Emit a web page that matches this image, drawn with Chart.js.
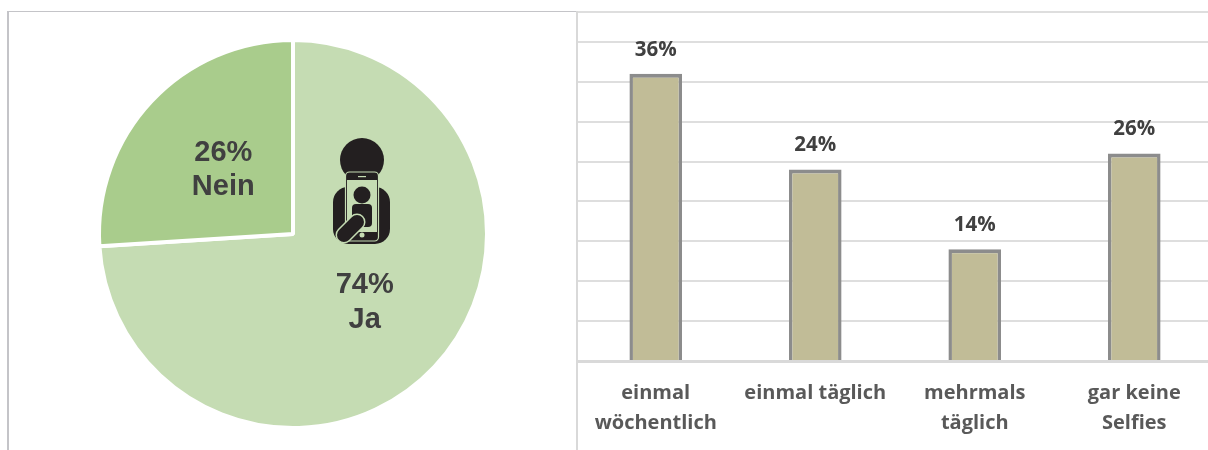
<!DOCTYPE html>
<html>
<head>
<meta charset="utf-8">
<style>
html, body { margin: 0; padding: 0; background: #fff; overflow: hidden; }
#page { position: relative; width: 1208px; height: 450px; overflow: hidden; }
canvas { position: absolute; }
#pie { left: 0; top: 0; }
#bars { left: 576px; top: 0; }
.frame { position: absolute; background: #c4c4c8; }
#icon { position: absolute; left: 300px; top: 120px; }
</style>
<script src="https://cdn.jsdelivr.net/npm/chart.js@4"></script>
</head>
<body>
<div id="page">
  <div class="frame" style="left:7px;top:11px;width:2px;height:439px"></div>
  <div class="frame" style="left:7px;top:11px;width:570px;height:1px"></div>
  <canvas id="pie" width="577" height="450"></canvas>
  <canvas id="bars" width="638" height="450"></canvas>
  <div class="frame" style="left:576px;top:11px;width:2px;height:439px;background:#d9d9d9"></div>
  <svg id="icon" width="120" height="130" viewBox="300 120 120 130">
    <circle cx="362" cy="160" r="22" fill="#231f20"/>
    <rect x="333" y="187" width="57" height="57" rx="15" fill="#231f20"/>
    <rect x="345.5" y="172" width="33" height="69" rx="4" fill="#231f20" stroke="#c5dcb3" stroke-width="1.2"/>
    <rect x="347" y="180" width="30" height="52" fill="#c5dcb3"/>
    <rect x="358" y="176" width="8" height="1.2" fill="#c5dcb3"/>
    <circle cx="362" cy="195" r="8.5" fill="#231f20"/>
    <rect x="352" y="204" width="20" height="23" rx="4" fill="#231f20"/>
    <circle cx="362" cy="235" r="2.5" fill="#c5dcb3"/>
    <line x1="344" y1="235" x2="357" y2="222" stroke="#c5dcb3" stroke-width="17" stroke-linecap="round"/>
    <line x1="344" y1="235" x2="357" y2="222" stroke="#231f20" stroke-width="14" stroke-linecap="round"/>
  </svg>
</div>
<script>
var answerLabels = ['Ja', 'Nein'];
var answerValues = [74, 26];
var answerColors = ['#c5dcb3', '#a9cc8c'];

var categories = [['einmal', 'wöchentlich'], 'einmal täglich', ['mehrmals', 'täglich'], ['gar keine', 'Selfies']];
var selfieValues = [36, 24, 14, 26];

// percent + name in the middle of each slice
var pieLabels = {
    id: 'pieLabels',
    afterDatasetsDraw: function (chart) {
        var ctx = chart.ctx;
        ctx.save();
        ctx.font = 'bold 29px "Liberation Sans"';
        ctx.fillStyle = '#404040';
        ctx.textAlign = 'center';
        ctx.textBaseline = 'middle';
        chart.getDatasetMeta(0).data.forEach(function (arc, i) {
            var p = arc.tooltipPosition();
            ctx.fillText(answerValues[i] + '%', p.x + 1, p.y - 15);
            ctx.fillText(answerLabels[i], p.x + 1, p.y + 19.5);
        });
        ctx.restore();
    }
};

new Chart(document.getElementById('pie').getContext('2d'), {
    type: 'pie',
    data: {
        labels: answerLabels,
        datasets: [{
            data: answerValues,
            backgroundColor: answerColors,
            borderColor: '#ffffff',
            borderWidth: 4
        }]
    },
    options: {
        responsive: false,
        animation: false,
        layout: { padding: { left: 97, right: 88, top: 38, bottom: 20 } },
        plugins: { legend: { display: false }, tooltip: { enabled: false } }
    },
    plugins: [pieLabels]
});

// value above each bar
var barLabels = {
    id: 'barLabels',
    afterDatasetsDraw: function (chart) {
        var ctx = chart.ctx;
        ctx.save();
        ctx.font = 'bold 20.5px "Open Sans"';
        ctx.fillStyle = '#404040';
        ctx.textAlign = 'center';
        ctx.textBaseline = 'middle';
        chart.getDatasetMeta(0).data.forEach(function (bar, i) {
            ctx.fillText(selfieValues[i] + '%', bar.x, bar.y - 24);
        });
        ctx.restore();
    }
};

new Chart(document.getElementById('bars').getContext('2d'), {
    type: 'bar',
    data: {
        labels: categories,
        datasets: [{
            data: selfieValues,
            backgroundColor: '#c1bc97',
            borderColor: '#8c8c8c',
            borderWidth: { top: 4, left: 3.5, right: 3.5, bottom: 0 },
            borderSkipped: false,
            barPercentage: 0.33,
            categoryPercentage: 1
        }]
    },
    options: {
        responsive: false,
        animation: false,
        layout: { padding: { top: 12 } },
        plugins: { legend: { display: false }, tooltip: { enabled: false } },
        scales: {
            x: {
                grid: { display: false },
                border: { color: '#d9d9d9', width: 3 },
                afterFit: function (scale) { scale.height = 89; },
                ticks: {
                    color: '#595959',
                    font: { family: 'Open Sans', weight: 'bold', size: 20, lineHeight: 1.5 },
                    maxRotation: 0,
                    autoSkip: false,
                    padding: 9
                }
            },
            y: {
                min: 0,
                max: 43.75,
                afterFit: function (scale) { scale.width = 0; },
                grid: { color: '#dedede', lineWidth: 2, drawTicks: false },
                border: { display: false },
                ticks: { display: false, stepSize: 5 }
            }
        }
    },
    plugins: [barLabels]
});
</script>
</body>
</html>
